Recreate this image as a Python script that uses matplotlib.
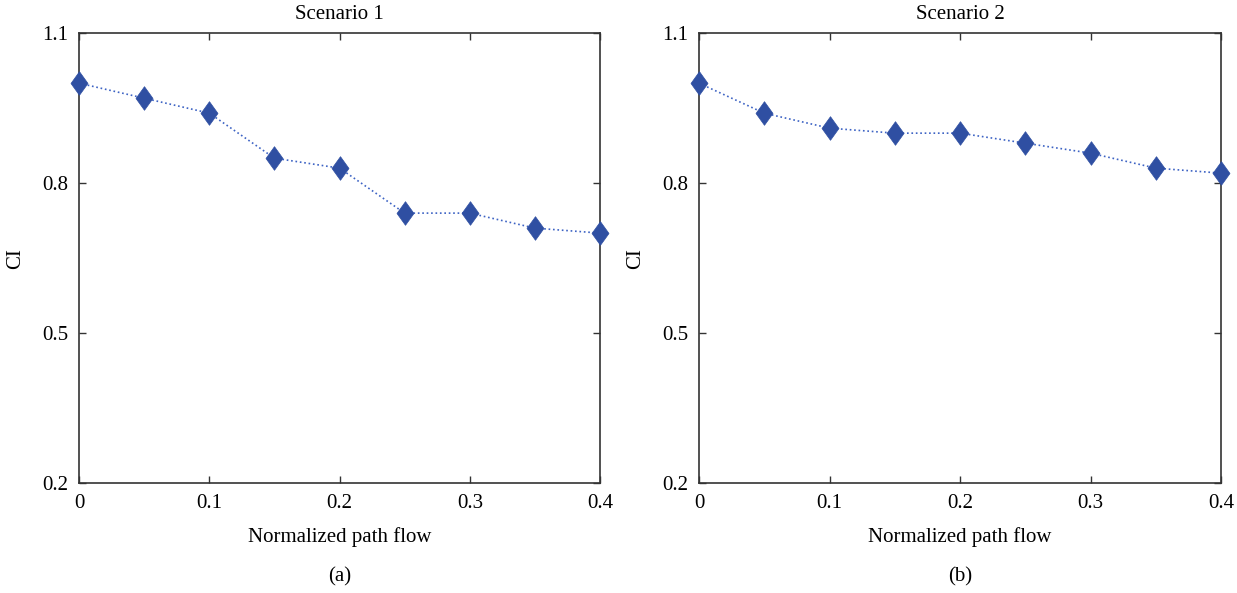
import numpy as np
import matplotlib.pyplot as plt

plt.rcParams['font.family'] = ['Liberation Serif', 'DejaVu Serif']

# path flow levels and CI for both scenarios
flow = [0, 0.05, 0.1, 0.15, 0.2, 0.25, 0.3, 0.35, 0.4]
ci_scenario1 = [1.0, 0.97, 0.94, 0.85, 0.83, 0.74, 0.74, 0.71, 0.70]
ci_scenario2 = [1.0, 0.94, 0.91, 0.90, 0.90, 0.88, 0.86, 0.83, 0.82]
titles = ['Scenario 1', 'Scenario 2']
panel_tags = ['(a)', '(b)']

marker_col = '#2f4fa2'
line_col = '#3d63c4'
# slightly tall diamond
diamond = [(0, 1), (0.72, 0), (0, -1), (-0.72, 0), (0, 1)]

fig = plt.figure(figsize=(12.37, 5.93), dpi=100)
ax1 = fig.add_axes([0.0639, 0.1855, 0.4212, 0.7585])
ax2 = fig.add_axes([0.5651, 0.1855, 0.4220, 0.7585])

for ax, ci, title, tag in zip([ax1, ax2], [ci_scenario1, ci_scenario2], titles, panel_tags):
    ax.plot(flow, ci, linestyle=':', color=line_col, linewidth=1.2,
            marker=diamond, markersize=17, markerfacecolor=marker_col,
            markeredgecolor=marker_col, markeredgewidth=0.5,
            clip_on=False, zorder=3)
    ax.set_xlim(0, 0.4)
    ax.set_ylim(0.2, 1.1)
    ax.set_xticks([0, 0.1, 0.2, 0.3, 0.4])
    ax.set_xticklabels(['0', '0.1', '0.2', '0.3', '0.4'])
    ax.set_yticks([0.2, 0.5, 0.8, 1.1])
    ax.tick_params(direction='in', top=True, right=True, length=5, width=1,
                   labelsize=15, pad=8, color='#333333')
    for sp in ax.spines.values():
        sp.set_linewidth(1.2)
        sp.set_color('#333333')
    ax.set_title(title, fontsize=15, pad=10)
    ax.set_ylabel('CI', fontsize=15, labelpad=12)
    ax.set_xlabel('Normalized path flow', fontsize=15, labelpad=10)
    ax.text(0.5, -0.209, tag, transform=ax.transAxes, ha='center', va='center',
            fontsize=15)

fig.savefig('out.png', dpi=100)
